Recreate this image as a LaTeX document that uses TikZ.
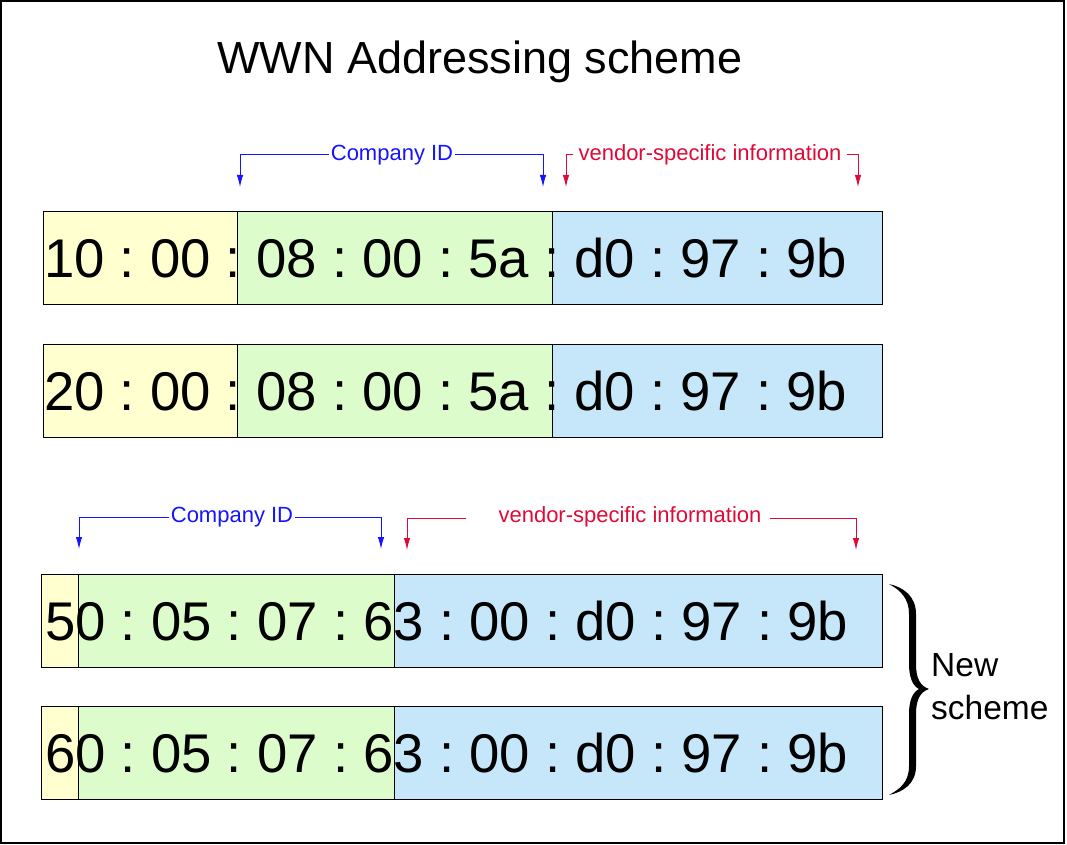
\documentclass[tikz,border=0pt]{standalone}
\usepackage{fontspec}
\setmainfont{Liberation Sans}
\usetikzlibrary{arrows.meta}
\definecolor{yel}{RGB}{255,255,208}
\definecolor{grn}{RGB}{221,252,204}
\definecolor{blu}{RGB}{198,230,250}
\definecolor{lblue}{RGB}{20,20,255}
\definecolor{lred}{RGB}{222,10,55}
\tikzset{
  seg/.style={draw=black, line width=1.2pt, inner sep=0pt, anchor=north west, minimum height=93pt},
  num/.style={inner sep=0pt, anchor=base west, font=\fontsize{54.5}{60}\selectfont\frenchspacing},
  lab/.style={inner sep=2pt, font=\fontsize{22}{26}\selectfont},
  arr/.style={line width=1pt, -{Latex[length=12pt,width=6.5pt]}},
}
\begin{document}
\begin{tikzpicture}[x=1pt,y=-1pt]
\useasboundingbox (0,0) rectangle (1067,845);
\draw[line width=2pt] (1,1) rectangle (1064,843);

\node[font=\fontsize{45}{50}\selectfont, inner sep=0pt, anchor=base] (title) at (480,74) {WWN Addressing scheme};

% Row 1
\node[seg, fill=yel, minimum width=194pt] (y1) at (43,211) {};
\node[seg, fill=grn, minimum width=315pt] (g1) at (237,211) {};
\node[seg, fill=blu, minimum width=330pt] (b1) at (552,211) {};
\node[num] (t1) at (44,277) {10 : 00 : 08 : 00 : 5a : d0 : 97 : 9b};
% Row 2
\node[seg, fill=yel, minimum width=194pt] (y2) at (43,344) {};
\node[seg, fill=grn, minimum width=315pt] (g2) at (237,344) {};
\node[seg, fill=blu, minimum width=330pt] (b2) at (552,344) {};
\node[num] (t2) at (44,410) {20 : 00 : 08 : 00 : 5a : d0 : 97 : 9b};
% Row 3
\node[seg, fill=yel, minimum width=37pt] (y3) at (41,574) {};
\node[seg, fill=grn, minimum width=316pt] (g3) at (78,574) {};
\node[seg, fill=blu, minimum width=488pt] (b3) at (394,574) {};
\node[num] (t3) at (45,640) {50 : 05 : 07 : 63 : 00 : d0 : 97 : 9b};
% Row 4
\node[seg, fill=yel, minimum width=37pt] (y4) at (41,706) {};
\node[seg, fill=grn, minimum width=316pt] (g4) at (78,706) {};
\node[seg, fill=blu, minimum width=488pt] (b4) at (394,706) {};
\node[num] (t4) at (45,772) {60 : 05 : 07 : 63 : 00 : d0 : 97 : 9b};

% Labels row 1
\node[lab, text=lblue] (cid1) at (392,155) {Company ID};
\coordinate (cid1l) at (240,187);
\coordinate (cid1r) at (543,187);
\draw[arr, lblue] (cid1.west) -| (cid1l);
\draw[arr, lblue] (cid1.east) -| (cid1r);
\node[lab, text=lred, inner sep=5pt] (vsi1) at (710,155) {vendor-specific information};
\coordinate (vsi1l) at (566,187);
\coordinate (vsi1r) at (858,187);
\draw[arr, lred] (vsi1.west) -| (vsi1l);
\draw[arr, lred] (vsi1.east) -| (vsi1r);

% Labels row 3
\node[lab, text=lblue] (cid3) at (232,517) {Company ID};
\coordinate (cid3l) at (79,549);
\coordinate (cid3r) at (381,549);
\draw[arr, lblue] (cid3.west) -| (cid3l);
\draw[arr, lblue] (cid3.east) -| (cid3r);
\node[lab, text=lred] (vsi3) at (630,517) {vendor-specific information};
\coordinate (vsi3a) at (466,518);
\coordinate (vsi3b) at (770,518);
\coordinate (vsi3l) at (407,550);
\coordinate (vsi3r) at (856,550);
\draw[arr, lred] (vsi3a) -| (vsi3l);
\draw[arr, lred] (vsi3b) -| (vsi3r);

% Brace (filled typographic shape)
\fill[black]
  (889,584) .. controls (903,587) and (916,596) .. (916,614)
  -- (916,664) .. controls (916,678) and (920,686) .. (929,689)
  .. controls (920,692) and (916,700) .. (916,714)
  -- (916,766) .. controls (916,784) and (903,792) .. (889,795)
  .. controls (900,789) and (909,782) .. (909,766)
  -- (909,714) .. controls (909,700) and (913,692) .. (919,689)
  .. controls (913,686) and (909,678) .. (909,664)
  -- (909,614) .. controls (909,598) and (900,590) .. (889,584) -- cycle;
\node[font=\fontsize{33.5}{43}\selectfont, align=left, inner sep=0pt, anchor=north west] (ns) at (931,653) {New\\scheme};
\end{tikzpicture}
\end{document}
